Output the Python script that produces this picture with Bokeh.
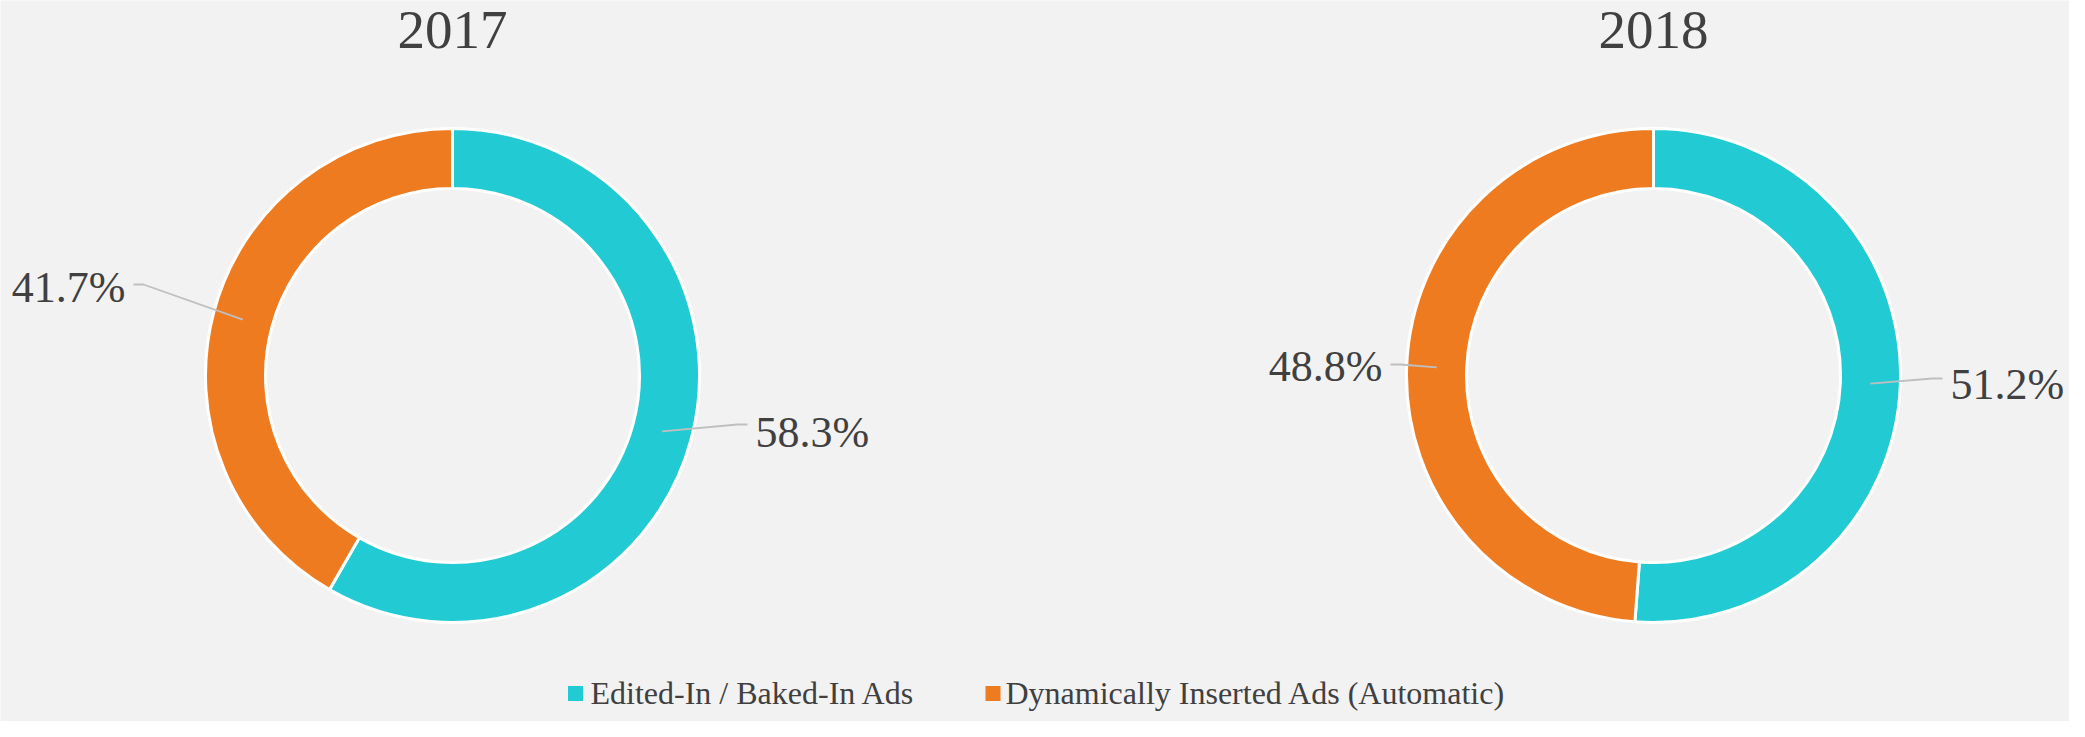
import math
from bokeh.plotting import figure
from bokeh.models import Range1d, ColumnDataSource
from bokeh.embed import file_html
from bokeh.resources import INLINE
from bokeh.core.properties import value

# ---------------- data ----------------
years = ["2017", "2018"]
categories = ["Edited-In / Baked-In Ads", "Dynamically Inserted Ads (Automatic)"]
edited_in = [58.3, 51.2]
dynamic = [41.7, 48.8]
colors = ["#22CBD4", "#EF7B21"]

# ---------------- layout ----------------
W, H = 2069, 721
FONT = "Liberation Serif"
TEXT_COLOR = "#404040"
BG = "#F2F2F2"


def X(sx):
    return sx


def Y(sy):
    return H - sy


center_sx = [452, 1653]
center_sy = 375
R_OUT, R_IN = 247, 187
R_MID = (R_OUT + R_IN) / 2

# leader-line elbow offsets (px from centre) per [year][category]
elbow_off = [[(285, 49), (-309, -91)], [(279, 3), (-253, -11)]]
# label vertical centre offset (px below elbow) per [year][category]
mid_off = [[8, 3], [6, 2]]

p = figure(width=W, height=H, x_range=Range1d(0, W), y_range=Range1d(0, H),
           output_backend="svg", toolbar_location=None, min_border=0,
           x_axis_type=None, y_axis_type=None)
p.grid.visible = False
p.outline_line_color = None
p.background_fill_color = BG
p.border_fill_color = BG

wx, wy, ws, we, wc = [], [], [], [], []
lead_x, lead_y = [], []
tx, ty, tt, talign = [], [], [], []

for i, yr in enumerate(years):
    vals = [edited_in[i], dynamic[i]]
    total = sum(vals)
    cum = 0.0
    cx, cy = center_sx[i], center_sy
    for j, v in enumerate(vals):
        f0 = cum / total
        f1 = (cum + v) / total
        cum += v
        wx.append(X(cx))
        wy.append(Y(cy))
        ws.append(math.pi / 2 - 2 * math.pi * f0)
        we.append(math.pi / 2 - 2 * math.pi * f1)
        wc.append(colors[j])
        # leader line
        th = 2 * math.pi * (f0 + f1) / 2
        sx0 = cx + R_MID * math.sin(th)
        sy0 = cy - R_MID * math.cos(th)
        ex, ey = elbow_off[i][j]
        side = 1 if ex > 0 else -1
        sx1, sy1 = cx + ex, cy + ey
        sx2 = sx1 + side * 10
        lead_x.append([X(sx0), X(sx1), X(sx2)])
        lead_y.append([Y(sy0), Y(sy1), Y(sy1)])
        tx.append(X(sx2 + side * 8))
        ty.append(Y(sy1 + mid_off[i][j]))
        tt.append(f"{v:.1f}%")
        talign.append("left" if side > 0 else "right")

src = ColumnDataSource(dict(x=wx, y=wy, s=ws, e=we, c=wc))
p.annular_wedge(x="x", y="y", inner_radius=R_IN, outer_radius=R_OUT,
                inner_radius_units="screen", outer_radius_units="screen",
                start_angle="s", end_angle="e", direction="clock",
                fill_color="c", line_color="white", line_width=3, source=src)

p.multi_line(xs=lead_x, ys=lead_y, line_color="#BFBFBF", line_width=1.8)

lsrc = ColumnDataSource(dict(x=tx, y=ty, t=tt, a=talign))
p.text(x="x", y="y", text="t", text_align="a", text_baseline="middle",
       text_font=value(FONT), text_font_size="44px", text_color=TEXT_COLOR, source=lsrc)

# titles
p.text(x=[X(s) for s in center_sx], y=[Y(29)] * len(years), text=years,
       text_align="center", text_baseline="middle",
       text_font=value(FONT), text_font_size="55px", text_color=TEXT_COLOR)

# legend
leg_sq_x = [575, 992.5]
leg_tx = [590, 1005]
p.rect(x=[X(s) for s in leg_sq_x], y=[Y(693)] * 2, width=15, height=15,
       width_units="screen", height_units="screen", fill_color=colors,
       line_color=None)
p.text(x=[X(s) for s in leg_tx], y=[Y(692)] * 2, text=categories,
       text_align="left", text_baseline="middle",
       text_font=value(FONT), text_font_size="32px", text_color=TEXT_COLOR)

open("out.html", "w").write(file_html(p, INLINE))
